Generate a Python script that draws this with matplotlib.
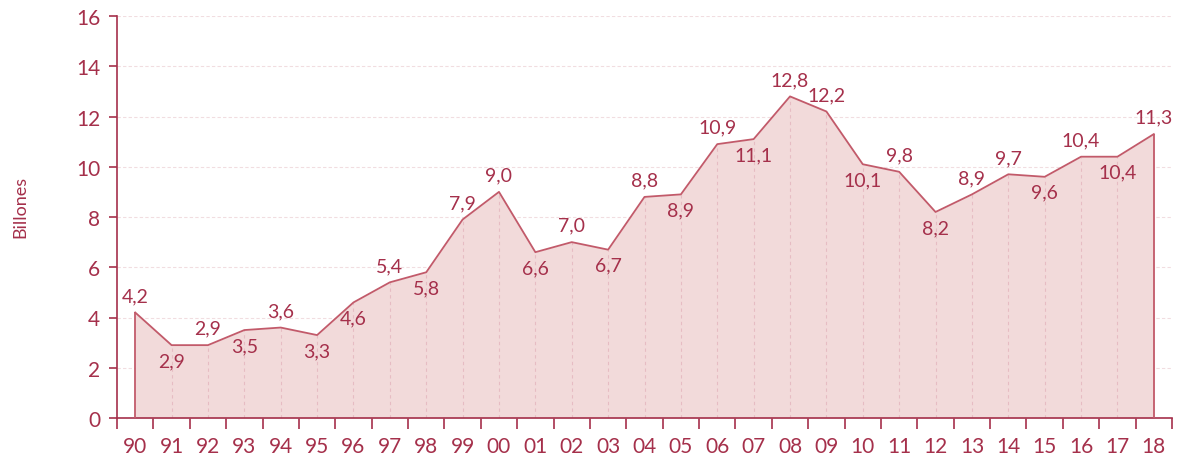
import matplotlib.pyplot as plt
import numpy as np

years = ['90', '91', '92', '93', '94', '95', '96', '97', '98', '99', '00', '01', '02', '03', '04',
         '05', '06', '07', '08', '09', '10', '11', '12', '13', '14', '15', '16', '17', '18']
values = [4.2, 2.9, 2.9, 3.5, 3.6, 3.3, 4.6, 5.4, 5.8, 7.9, 9.0, 6.6, 7.0, 6.7, 8.8,
          8.9, 10.9, 11.1, 12.8, 12.2, 10.1, 9.8, 8.2, 8.9, 9.7, 9.6, 10.4, 10.4, 11.3]
# 1 = label above the point, 0 = below
above = [1, 0, 1, 0, 1, 0, 0, 1, 0, 1, 1, 0, 1, 0, 1,
         0, 1, 0, 1, 1, 0, 1, 0, 1, 1, 0, 1, 0, 1]

dark = '#A5304B'
line_c = '#C25A6A'
fill_c = '#F2DADA'
grid_c = '#F1DDE0'

plt.rcParams['font.family'] = ['Lato', 'DejaVu Sans']

fig = plt.figure(figsize=(11.83, 4.64), dpi=100)
ax = fig.add_axes([117 / 1183, 45 / 464, (1172 - 117) / 1183, (419 - 17) / 464])

x = np.arange(len(years))
ax.fill_between(x, values, 0, color=fill_c, lw=0, zorder=2)
ax.plot(x, values, color=line_c, lw=1.3, zorder=3)
ax.vlines(x[1:-1], 0, values[1:-1], colors='#E6BCC3', lw=0.8, linestyles=(0, (3, 3)), zorder=2.5)
ax.vlines([x[0], x[-1]], 0, [values[0], values[-1]], colors=line_c, lw=1.3, zorder=3)

for xi, v, a in zip(x, values, above):
    lab = ('%.1f' % v).replace('.', ',')
    if a:
        ax.annotate(lab, (xi, v), xytext=(0, 6), textcoords='offset points',
                    ha='center', va='bottom', color=dark, fontsize=14, zorder=4)
    else:
        ax.annotate(lab, (xi, v), xytext=(0, -5), textcoords='offset points',
                    ha='center', va='top', color=dark, fontsize=14, zorder=4)

ax.set_xlim(-0.5, len(years) - 0.5)
ax.set_ylim(0, 16)
ax.set_yticks(range(0, 17, 2))
ax.set_xticks(np.arange(-0.5, len(years), 1))
ax.set_xticklabels([])
ax.set_xticks(x, minor=True)
ax.set_xticklabels(years, minor=True)
ax.tick_params(axis='x', which='major', length=8, color=dark, width=1.2)
ax.tick_params(axis='x', which='minor', length=0, pad=13, labelsize=15, labelcolor=dark)
ax.tick_params(axis='y', length=6, color=dark, width=1.2, labelsize=15, labelcolor=dark, pad=6)

ax.yaxis.grid(True, color=grid_c, lw=0.8, linestyle=(0, (3, 2)), zorder=0)
ax.set_axisbelow(True)
for s in ['top', 'right']:
    ax.spines[s].set_visible(False)
for s in ['left', 'bottom']:
    ax.spines[s].set_color(dark)
    ax.spines[s].set_linewidth(1.2)

fig.text(20 / 1183, 1 - 207 / 464, 'Billones', rotation=90, va='center', ha='center', color=dark, fontsize=13)

fig.savefig('out.png', dpi=100)
